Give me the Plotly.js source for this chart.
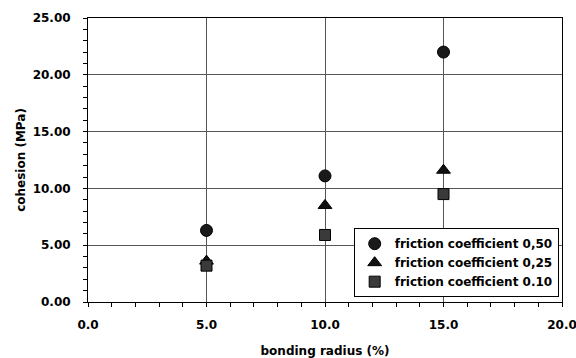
<!DOCTYPE html>
<html>
<head>
<meta charset="utf-8">
<script src="https://cdn.plot.ly/plotly-3.0.1.min.js"></script>
<style>html,body{margin:0;padding:0;background:#fff;}#chart{width:576px;height:358px;}</style>
</head>
<body>
<div id="chart"></div>
<script>
var bondingRadius = [5, 10, 15];
var cohesion050 = [6.3, 11.1, 22.0];
var cohesion025 = [3.6, 8.5, 11.6];
var cohesion010 = [3.2, 5.9, 9.5];
var seriesNames = ['friction coefficient 0,50', 'friction coefficient 0,25', 'friction coefficient 0.10'];

var font = 'DejaVu Sans, sans-serif';
var traces = [
  {x: bondingRadius, y: cohesion050, name: seriesNames[0], type: 'scatter', mode: 'markers',
   marker: {symbol: 'circle', size: 12, color: '#1a1a1a', line: {color: '#000', width: 1}}},
  {x: bondingRadius, y: cohesion025, name: seriesNames[1], type: 'scatter', mode: 'markers',
   marker: {symbol: 'triangle-up', size: 12, color: '#111', line: {color: '#000', width: 1}}},
  {x: bondingRadius, y: cohesion010, name: seriesNames[2], type: 'scatter', mode: 'markers',
   marker: {symbol: 'square', size: 11, color: '#3a3a3a', line: {color: '#000', width: 1}}}
];

var layout = {
  width: 576, height: 358,
  margin: {l: 88, r: 14, t: 18, b: 56},
  paper_bgcolor: '#fff', plot_bgcolor: '#fff',
  font: {family: font, size: 12, color: '#000'},
  showlegend: true,
  legend: {
    x: 0.993, y: 0.26, xanchor: 'right', yanchor: 'top',
    bgcolor: '#fff', bordercolor: '#000', borderwidth: 1,
    font: {family: font, size: 12, color: '#000', weight: 'bold'},
    itemwidth: 30, tracegroupgap: 0
  },
  xaxis: {
    range: [0, 20], tickvals: [0, 5, 10, 15, 20], tickformat: '.1f',
    showgrid: true, gridcolor: '#555', gridwidth: 1, zeroline: false,
    showline: true, linecolor: '#000', linewidth: 1, mirror: true,
    ticks: 'outside', ticklen: 4, tickcolor: '#000',
    minor: {dtick: 1, ticks: 'outside', ticklen: 4, tickcolor: '#000', showgrid: false},
    ticklabelstandoff: 8, ticklabeloverflow: 'allow',
    tickfont: {family: font, size: 12, weight: 'bold'},
    title: {text: 'bonding radius (%)', font: {family: font, size: 12, weight: 'bold'}, standoff: 16}
  },
  yaxis: {
    range: [0, 25], tickvals: [0, 5, 10, 15, 20, 25], tickformat: '.2f',
    showgrid: true, gridcolor: '#555', gridwidth: 1, zeroline: false,
    showline: true, linecolor: '#000', linewidth: 1, mirror: true,
    ticks: 'outside', ticklen: 4, tickcolor: '#000',
    minor: {dtick: 1, ticks: 'outside', ticklen: 4, tickcolor: '#000', showgrid: false},
    ticklabelstandoff: 10, ticklabeloverflow: 'allow',
    tickfont: {family: font, size: 12, weight: 'bold'},
    title: {text: 'cohesion (MPa)', font: {family: font, size: 12, weight: 'bold'}, standoff: 4}
  }
};

Plotly.newPlot('chart', traces, layout, {displayModeBar: false, staticPlot: true});
</script>
</body>
</html>
